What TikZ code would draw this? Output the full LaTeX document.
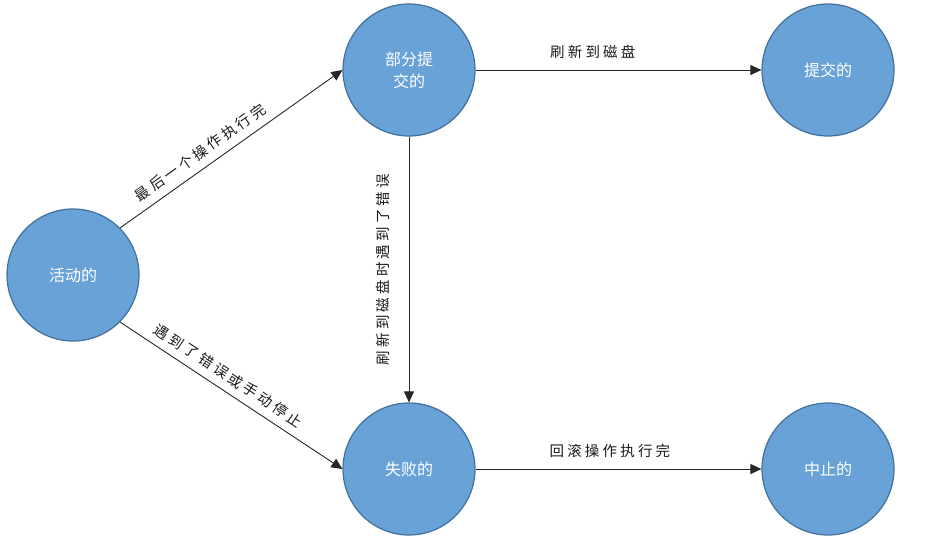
\documentclass[tikz,border=0pt]{standalone}
\usepackage{fontspec}
\newfontfamily\cjk{Noto Sans CJK SC}
\newfontfamily\cjklbl[LetterSpace=22]{Noto Sans CJK SC}
\usetikzlibrary{arrows.meta}
\definecolor{stfill}{RGB}{104,162,214}
\definecolor{stdraw}{RGB}{65,113,156}
\tikzset{
 state/.style={circle, fill=stfill, draw=stdraw, line width=1.2pt, minimum size=132pt, inner sep=0pt, text=white, font=\cjk\fontsize{16}{22}\selectfont, align=center},
 trans/.style={draw=black!85, line width=0.9pt, -{Triangle[length=11pt,width=10pt]}},
 lbl/.style={font=\cjklbl\fontsize{14.5}{16}\selectfont, text=black!90, inner sep=0pt}
}
\begin{document}
\begin{tikzpicture}[x=1pt,y=-1pt]
\useasboundingbox (0,0) rectangle (944,541);
\node[state] (active) at (73,275) {活动的};
\node[state] (partial) at (409,70) {部分提\\交的};
\node[state] (committed) at (828,70) {提交的};
\node[state] (failed) at (409,469) {失败的};
\node[state] (aborted) at (828,469) {中止的};
\draw[trans] (active.45) -- (partial.west) node[lbl, sloped, pos=0.4, above=8pt] {最后一个操作执行完};
\draw[trans] (active.-45) -- (failed.west) node[lbl, sloped, pos=0.45, above=8pt] {遇到了错误或手动停止};
\draw[trans] (partial.south) -- (failed.north) node[lbl, midway, xshift=-26pt, rotate=90] {刷新到磁盘时遇到了错误};
\draw[trans] (partial.east) -- (committed.west) node[lbl, pos=0.41, above=11pt] {刷新到磁盘};
\draw[trans] (failed.east) -- (aborted.west) node[lbl, pos=0.47, above=11pt] {回滚操作执行完};
\end{tikzpicture}
\end{document}
